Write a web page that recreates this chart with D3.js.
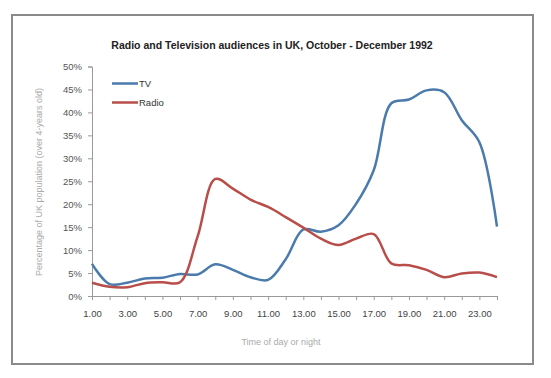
<!DOCTYPE html>
<html>
<head>
<meta charset="utf-8">
<script src="https://cdn.jsdelivr.net/npm/d3@7"></script>
<style>
  body { margin: 0; background: #fff; }
  text { font-family: "Liberation Sans", Arial, sans-serif; }
</style>
</head>
<body>
<script>
// data
var hours = d3.range(1, 25);
var tvValues = [7.0, 2.6, 2.9, 3.8, 4.0, 4.8, 4.7, 6.9, 5.7, 4.1, 3.5, 8.0,
                14.5, 14.0, 15.4, 20.1, 27.4, 42.0, 42.8, 44.8, 44.4, 38.3, 33.5, 15.1];
var radioValues = [2.9, 2.0, 1.9, 2.8, 3.0, 3.0, 13.0, 25.5, 23.4, 21.0, 19.4, 17.2,
                   14.9, 12.5, 11.1, 12.5, 13.5, 7.1, 6.7, 5.7, 4.1, 4.9, 5.1, 4.1];
var yTicks = [0, 5, 10, 15, 20, 25, 30, 35, 40, 45, 50];
var xLabelHours = [1, 3, 5, 7, 9, 11, 13, 15, 17, 19, 21, 23];
var seriesNames = ["TV", "Radio"];

var w = 551, h = 378;
var colors = { TV: "#4a7bac", Radio: "#b84e4a" };

var svg = d3.select("body").append("svg")
    .attr("width", w)
    .attr("height", h);

// outer frame
svg.append("rect")
    .attr("x", 12).attr("y", 15)
    .attr("width", 521).attr("height", 349)
    .attr("fill", "#fff")
    .attr("stroke", "#8a8a8a")
    .attr("stroke-width", 2);

var x = d3.scaleLinear().domain([1, 24]).range([92, 497]);
var y = d3.scaleLinear().domain([0, 50]).range([296, 66.5]);

// title
svg.append("text")
    .attr("x", 272).attr("y", 49)
    .attr("text-anchor", "middle")
    .attr("font-size", 10.5)
    .attr("font-weight", "bold")
    .attr("fill", "#222")
    .text("Radio and Television audiences in UK, October - December 1992");

// y axis
var yAxis = svg.append("g")
    .attr("transform", "translate(92,0)")
    .call(d3.axisLeft(y).tickValues(yTicks).tickSize(4).tickPadding(6)
        .tickFormat(function (d) { return d + "%"; }));
yAxis.select(".domain").attr("stroke", "#999");
yAxis.selectAll(".tick line").attr("stroke", "#999");
yAxis.selectAll("text").attr("font-size", 9.5).attr("fill", "#555")
    .attr("font-family", "Liberation Sans, Arial, sans-serif");

// x axis
var xAxis = svg.append("g")
    .attr("transform", "translate(0,296)")
    .call(d3.axisBottom(x).tickValues(hours).tickSize(4).tickPadding(10)
        .tickFormat(function (d) { return xLabelHours.indexOf(d) >= 0 ? d + ".00" : ""; }));
xAxis.select(".domain").attr("stroke", "#999");
xAxis.selectAll(".tick line").attr("stroke", "#999");
xAxis.selectAll("text").attr("font-size", 9.5).attr("fill", "#444")
    .attr("font-family", "Liberation Sans, Arial, sans-serif");

// axis titles
svg.append("text")
    .attr("transform", "translate(42,182) rotate(-90)")
    .attr("text-anchor", "middle")
    .attr("font-size", 9)
    .attr("fill", "#aaa")
    .text("Percentage of UK population (over 4-years old)");

svg.append("text")
    .attr("x", 281).attr("y", 345)
    .attr("text-anchor", "middle")
    .attr("font-size", 9)
    .attr("fill", "#aaa")
    .text("Time of day or night");

// lines
var line = d3.line()
    .x(function (d, i) { return x(hours[i]); })
    .y(function (d) { return y(d); })
    .curve(d3.curveCatmullRom.alpha(0.5));

[tvValues, radioValues].forEach(function (vals, k) {
    svg.append("path")
        .datum(vals)
        .attr("d", line)
        .attr("fill", "none")
        .attr("stroke", colors[seriesNames[k]])
        .attr("stroke-width", 2.5)
        .attr("stroke-linejoin", "round");
});

// legend
var legend = svg.selectAll(".legend")
    .data(seriesNames)
    .enter().append("g")
    .attr("transform", function (d, i) { return "translate(112," + (83.5 + i * 19) + ")"; });
legend.append("line")
    .attr("x1", 0).attr("x2", 26)
    .attr("stroke", function (d) { return colors[d]; })
    .attr("stroke-width", 2.5);
legend.append("text")
    .attr("x", 27).attr("y", 3.5)
    .attr("font-size", 9.5)
    .attr("fill", "#333")
    .text(function (d) { return d; });
</script>
</body>
</html>
